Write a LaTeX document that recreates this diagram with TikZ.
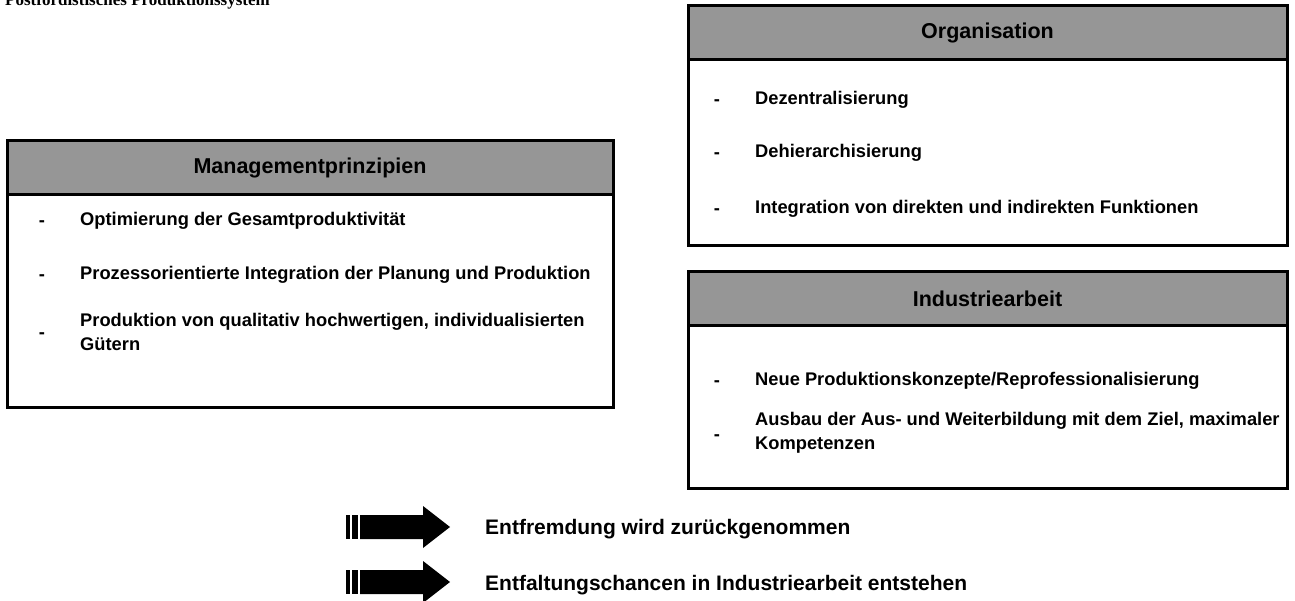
\documentclass[tikz,border=0pt]{standalone}
\usepackage{fontspec}
\setmainfont{Liberation Sans}
\newfontfamily\titlefont{Liberation Serif}
\definecolor{hdrgray}{RGB}{150,150,150}
\tikzset{
  x=1pt, y=-1pt,
  boxbody/.style={draw=black, line width=3pt, fill=white, inner sep=0pt, outer sep=0pt, anchor=north west},
  boxhead/.style={draw=black, line width=3pt, fill=hdrgray, inner sep=0pt, outer sep=0pt, anchor=north west,
    font=\bfseries\fontsize{21.5}{24}\selectfont},
  itemtext/.style={anchor=west, inner sep=0pt, align=left, font=\bfseries\fontsize{18.3}{24}\selectfont},
  dashmark/.style={anchor=center, inner sep=0pt, font=\bfseries\fontsize{18.3}{24}\selectfont},
  arrowtext/.style={anchor=west, inner sep=0pt, font=\bfseries\fontsize{21}{24}\selectfont},
  titletext/.style={anchor=base west, inner sep=0pt, font=\titlefont\bfseries\fontsize{17}{20}\selectfont},
}
\newcommand{\fatarrow}[1]{%
  \fill[black] ($(#1)+(-104,-12)$) rectangle ($(#1)+(-100,12)$);
  \fill[black] ($(#1)+(-98,-12)$) rectangle ($(#1)+(-92,12)$);
  \fill[black] ($(#1)+(-90,-12)$) -- ($(#1)+(-27,-12)$) -- ($(#1)+(-27,-21)$) -- (#1)
     -- ($(#1)+(-27,21)$) -- ($(#1)+(-27,12)$) -- ($(#1)+(-90,12)$) -- cycle;}
\usetikzlibrary{calc}
\begin{document}
\begin{tikzpicture}
\useasboundingbox (0,0) rectangle (1295,601);
% title (cut off at top, as in the reference)
\node[titletext] (title) at (5,6) {Postfordistisches Produktionssystem};

% Managementprinzipien
\node[boxbody, minimum width=606, minimum height=266] (mgmt) at (7,141) {};
\node[boxhead, minimum width=606, minimum height=54] (mgmtH) at (7,141) {Managementprinzipien};
\node[dashmark] (m1d) at (42,224) {-};
\node[itemtext] (m1) at (80,221) {Optimierung der Gesamtproduktivität};
\node[dashmark] (m2d) at (42,278) {-};
\node[itemtext] (m2) at (80,275) {Prozessorientierte Integration der Planung und Produktion};
\node[dashmark] (m3d) at (42,336) {-};
\node[itemtext] (m3) at (80,332) {Produktion von qualitativ hochwertigen, individualisierten\\Gütern};

% Organisation
\node[boxbody, minimum width=599, minimum height=240] (org) at (688,6) {};
\node[boxhead, minimum width=599, minimum height=54] (orgH) at (688,6) {Organisation};
\node[dashmark] (o1d) at (717,103) {-};
\node[itemtext] (o1) at (755,100) {Dezentralisierung};
\node[dashmark] (o2d) at (717,156) {-};
\node[itemtext] (o2) at (755,153) {Dehierarchisierung};
\node[dashmark] (o3d) at (717,212) {-};
\node[itemtext] (o3) at (755,209) {Integration von direkten und indirekten Funktionen};

% Industriearbeit
\node[boxbody, minimum width=599, minimum height=216] (ind) at (688,272) {};
\node[boxhead, minimum width=599, minimum height=54] (indH) at (688,272) {Industriearbeit};
\node[dashmark] (i1d) at (717,384) {-};
\node[itemtext] (i1) at (755,381) {Neue Produktionskonzepte/Reprofessionalisierung};
\node[dashmark] (i2d) at (717,438) {-};
\node[itemtext] (i2) at (755,433) {Ausbau der Aus- und Weiterbildung mit dem Ziel, maximaler\\Kompetenzen};

% arrows
\coordinate (a1) at (450,527);
\coordinate (a2) at (450,582);
\fatarrow{a1}
\fatarrow{a2}
\node[arrowtext] (t1) at (485,529) {Entfremdung wird zurückgenommen};
\node[arrowtext] (t2) at (485,585) {Entfaltungschancen in Industriearbeit entstehen};
\end{tikzpicture}
\end{document}
